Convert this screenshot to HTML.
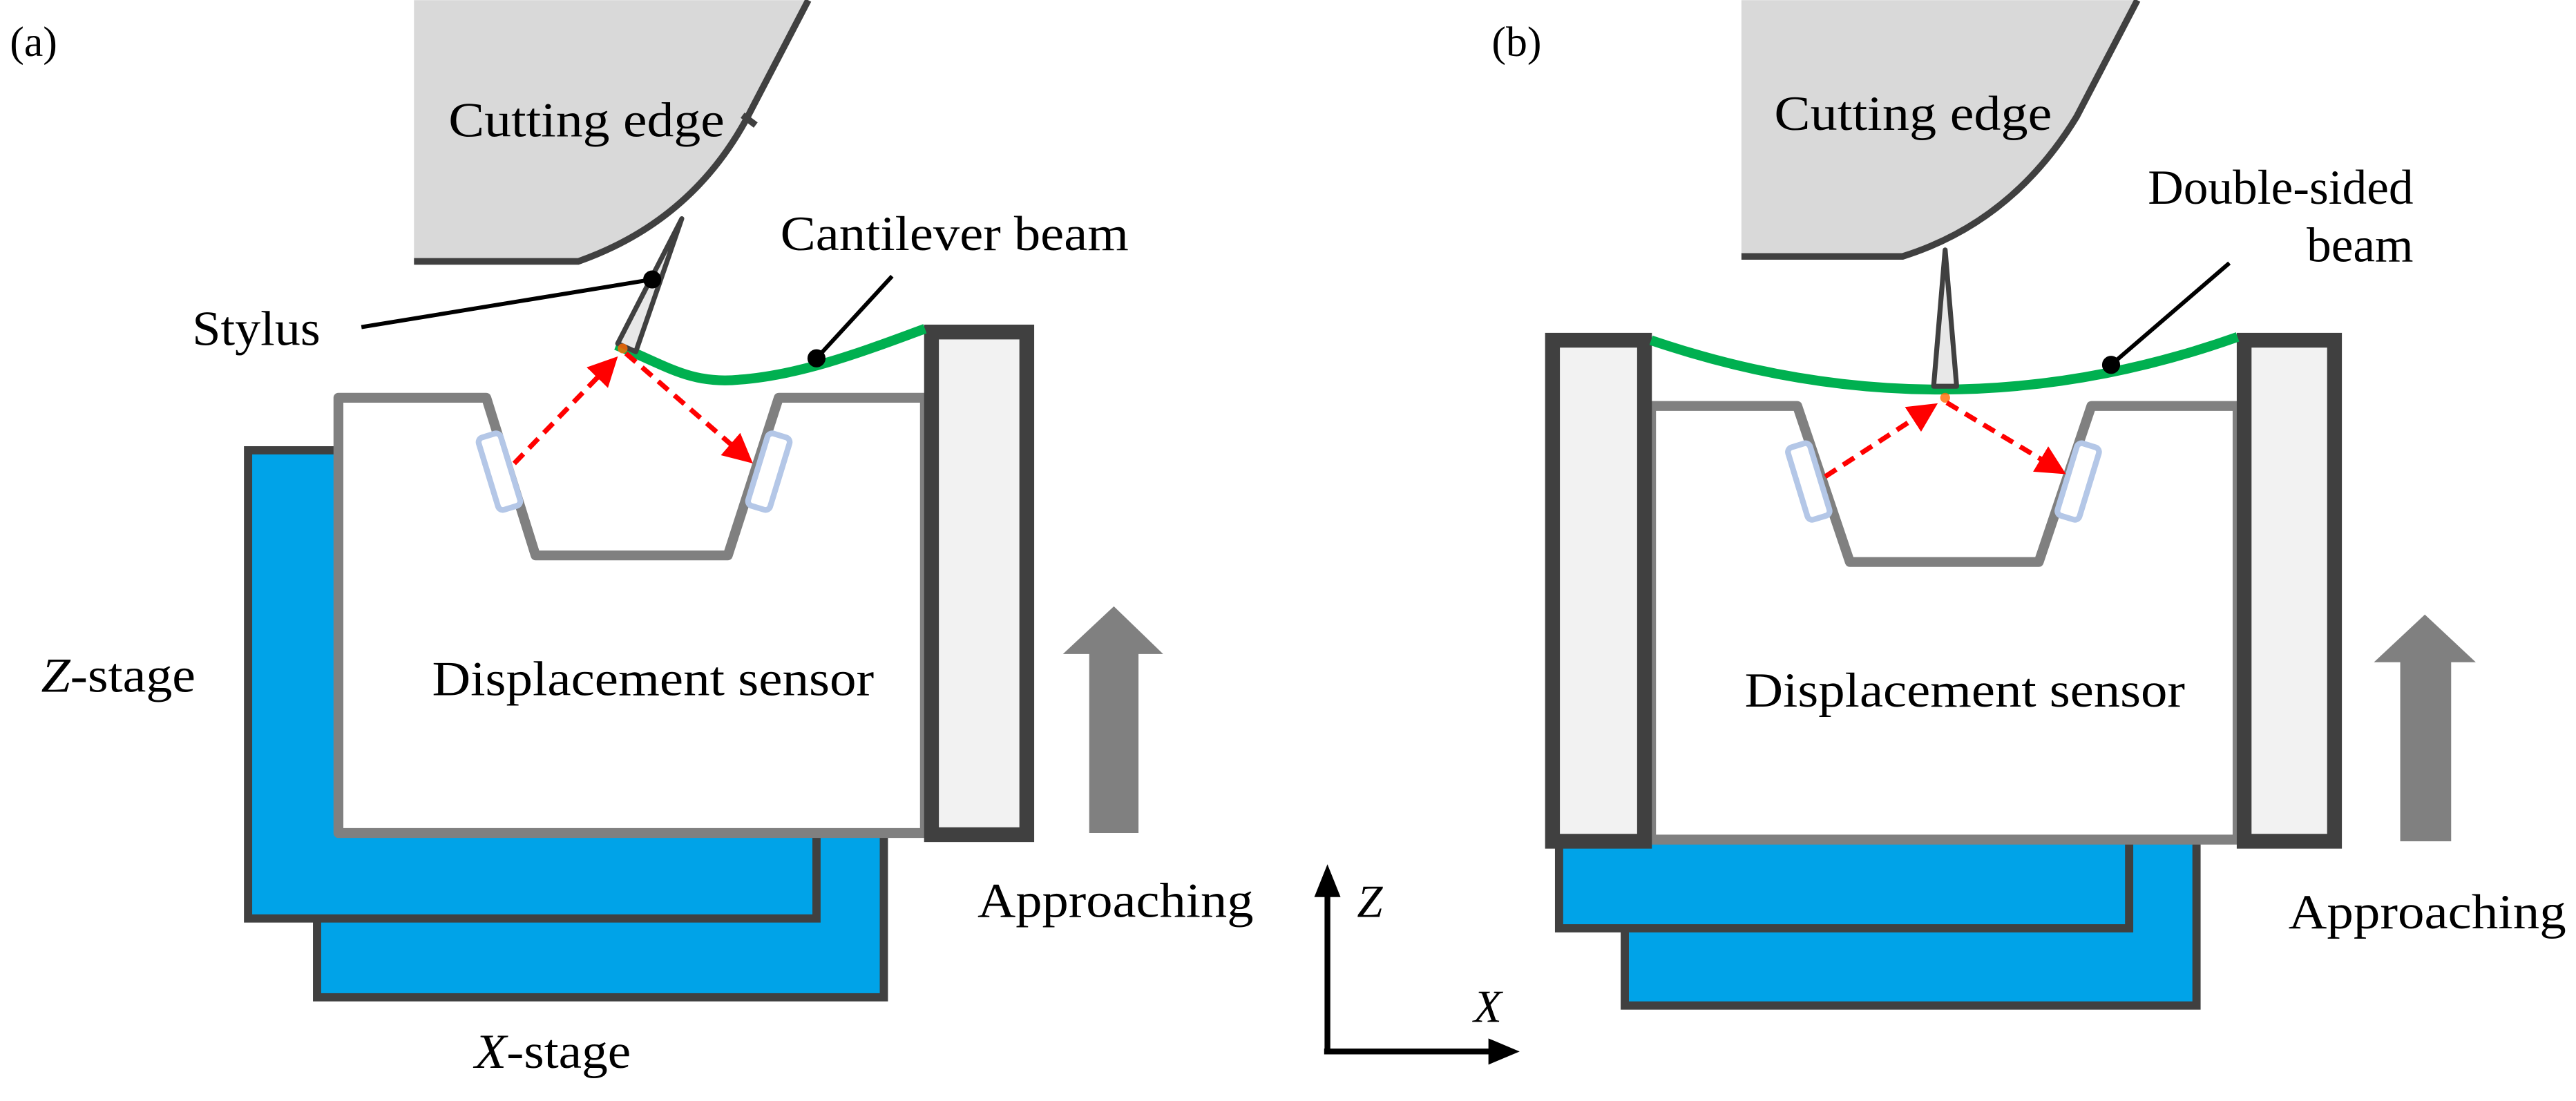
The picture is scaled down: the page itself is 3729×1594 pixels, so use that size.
<!DOCTYPE html>
<html><head><meta charset="utf-8"><style>
html,body{margin:0;padding:0;background:#fff;}
svg{display:block;}
svg text{font-family:"Liberation Serif","Times New Roman","DejaVu Serif",serif;fill:#000;}
</style></head><body>
<svg width="3729" height="1594" viewBox="0 0 1568 670" xmlns="http://www.w3.org/2000/svg" font-family="Liberation Serif, Times New Roman, DejaVu Serif, serif">
<defs>
<marker id="ra" markerWidth="6" markerHeight="6" refX="5" refY="3" orient="auto" markerUnits="strokeWidth">
<path d="M0,0 L6,3 L0,6 Z" fill="#ff0000"/></marker>
</defs>
<rect width="1568" height="670" fill="#fff"/>

<!-- ===== (a) ===== -->
<text x="6" y="34" font-size="26">(a)</text>
<path d="M252,0 L492,0 L454,73 Q420,135 352,159 L252,159 Z" fill="#d9d9d9"/>
<path d="M492,0 L454,73 Q420,135 352,159 L252,159" fill="none" stroke="#404040" stroke-width="4"/>
<path d="M452,70 L460,76" stroke="#404040" stroke-width="4"/>
<text x="273" y="83" font-size="30" textLength="168" lengthAdjust="spacingAndGlyphs">Cutting edge</text>

<rect x="193" y="300" width="345" height="307" fill="#00a3e8" stroke="#404040" stroke-width="5"/>
<rect x="151" y="274" width="346" height="285" fill="#00a3e8" stroke="#404040" stroke-width="5"/>
<rect x="206" y="236" width="357" height="271" fill="#fff"/>
<path d="M206,507 L206,242 L296,242 L326,338 L443,338 L474,242 L563,242 L563,507 Z" fill="#fff" stroke="#808080" stroke-width="6" stroke-linejoin="round"/>
<rect x="-7" y="-23" width="14" height="46" rx="3" transform="translate(304,287) rotate(-17)" fill="#fff" stroke="#b4c7e7" stroke-width="3.5"/>
<rect x="-7" y="-23" width="14" height="46" rx="3" transform="translate(468,287) rotate(17)" fill="#fff" stroke="#b4c7e7" stroke-width="3.5"/>
<rect x="567" y="202" width="58" height="306" fill="#f2f2f2" stroke="#404040" stroke-width="9"/>
<path d="M375,210 C405,222 420,234 450,231 C490,228 530,212 563,200" fill="none" stroke="#00b050" stroke-width="6"/>
<path d="M415,133 L387,214 L376,209 Z" fill="#e8e8e8" stroke="#404040" stroke-width="3" stroke-linejoin="round"/>
<circle cx="379" cy="212" r="3" fill="#ff6a00" opacity="0.8"/>
<line x1="313" y1="282" x2="374" y2="219" stroke="#ff0000" stroke-width="3" stroke-dasharray="8,5" marker-end="url(#ra)"/>
<line x1="381" y1="215" x2="456" y2="280" stroke="#ff0000" stroke-width="3" stroke-dasharray="8,5" marker-end="url(#ra)"/>
<line x1="220" y1="199" x2="397" y2="170" stroke="#000" stroke-width="2.5"/>
<circle cx="397" cy="170" r="5.5" fill="#000"/>
<text x="117" y="210" font-size="30" textLength="78" lengthAdjust="spacingAndGlyphs">Stylus</text>
<line x1="497" y1="218" x2="543" y2="168" stroke="#000" stroke-width="2.5"/>
<circle cx="497" cy="218" r="5.5" fill="#000"/>
<text x="475" y="152" font-size="30" textLength="212" lengthAdjust="spacingAndGlyphs">Cantilever beam</text>
<path d="M663,507 L663,398 L647,398 L678,369 L708,398 L693,398 L693,507 Z" fill="#808080"/>
<text x="595" y="558" font-size="30" textLength="168" lengthAdjust="spacingAndGlyphs">Approaching</text>
<text x="25" y="421" font-size="30" textLength="94" lengthAdjust="spacingAndGlyphs"><tspan font-style="italic">Z</tspan>-stage</text>
<text x="263" y="423" font-size="30" textLength="269" lengthAdjust="spacingAndGlyphs">Displacement sensor</text>
<text x="289" y="650" font-size="30" textLength="95" lengthAdjust="spacingAndGlyphs"><tspan font-style="italic">X</tspan>-stage</text>

<!-- axes -->
<line x1="808" y1="640" x2="808" y2="545" stroke="#000" stroke-width="3.5"/>
<path d="M800,546 L808,526 L816,546 Z" fill="#000"/>
<line x1="806" y1="640" x2="908" y2="640" stroke="#000" stroke-width="3.5"/>
<path d="M906,632 L925,640 L906,648 Z" fill="#000"/>
<text x="826" y="558" font-size="28" font-style="italic">Z</text>
<text x="897" y="622" font-size="28" font-style="italic">X</text>

<!-- ===== (b) ===== -->
<text x="908" y="34" font-size="26">(b)</text>
<path d="M1060,0 L1301,0 L1264,71 Q1225,135 1158,156 L1060,156 Z" fill="#d9d9d9"/>
<path d="M1301,0 L1264,71 Q1225,135 1158,156 L1060,156" fill="none" stroke="#404040" stroke-width="4"/>
<text x="1080" y="79" font-size="30" textLength="169" lengthAdjust="spacingAndGlyphs">Cutting edge</text>

<rect x="989" y="500" width="348" height="112" fill="#00a3e8" stroke="#404040" stroke-width="5"/>
<rect x="949" y="490" width="347" height="75" fill="#00a3e8" stroke="#404040" stroke-width="5"/>
<rect x="1005" y="240" width="357" height="271" fill="#fff"/>
<path d="M1005,511 L1005,247 L1094,247 L1126,342 L1241,342 L1273,247 L1362,247 L1362,511 Z" fill="#fff" stroke="#808080" stroke-width="6" stroke-linejoin="round"/>
<rect x="-7" y="-23" width="14" height="46" rx="3" transform="translate(1101,293) rotate(-17)" fill="#fff" stroke="#b4c7e7" stroke-width="3.5"/>
<rect x="-7" y="-23" width="14" height="46" rx="3" transform="translate(1265,293) rotate(17)" fill="#fff" stroke="#b4c7e7" stroke-width="3.5"/>
<rect x="945" y="207" width="56" height="305" fill="#f2f2f2" stroke="#404040" stroke-width="9"/>
<rect x="1366" y="207" width="55" height="305" fill="#f2f2f2" stroke="#404040" stroke-width="9"/>
<path d="M1005,207 Q1184,268 1362,205" fill="none" stroke="#00b050" stroke-width="6"/>
<path d="M1184,152 L1191,235 L1177,235 Z" fill="#e8e8e8" stroke="#404040" stroke-width="3" stroke-linejoin="round"/>
<circle cx="1184" cy="242" r="3" fill="#ff6a00" opacity="0.8"/>
<line x1="1111" y1="290" x2="1177" y2="247" stroke="#ff0000" stroke-width="3" stroke-dasharray="8,5" marker-end="url(#ra)"/>
<line x1="1185" y1="245" x2="1255" y2="287" stroke="#ff0000" stroke-width="3" stroke-dasharray="8,5" marker-end="url(#ra)"/>
<line x1="1285" y1="222" x2="1357" y2="160" stroke="#000" stroke-width="2.5"/>
<circle cx="1285" cy="222" r="5.5" fill="#000"/>
<text x="1469" y="124" font-size="30" text-anchor="end">Double-sided</text>
<text x="1469" y="159" font-size="30" text-anchor="end">beam</text>
<path d="M1461,512 L1461,403 L1445,403 L1476,374 L1507,403 L1492,403 L1492,512 Z" fill="#808080"/>
<text x="1393" y="565" font-size="30" textLength="169" lengthAdjust="spacingAndGlyphs">Approaching</text>
<text x="1062" y="430" font-size="30" textLength="268" lengthAdjust="spacingAndGlyphs">Displacement sensor</text>
</svg>
</body></html>
